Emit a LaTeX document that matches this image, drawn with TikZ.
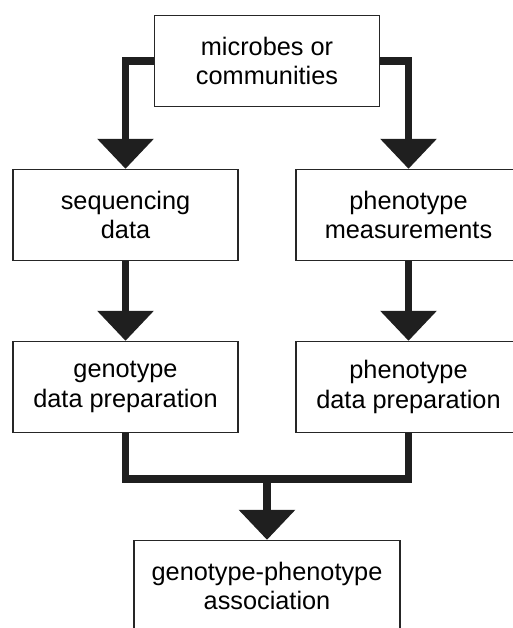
\documentclass[tikz,border=0pt]{standalone}
\usepackage{fontspec}
\setmainfont{Liberation Sans}
\usetikzlibrary{arrows.meta}
\begin{document}
\begin{tikzpicture}[
            box/.style={rectangle, draw=black!85, thick, minimum width=4.5cm, minimum height=1.82cm,
                        align=center, font=\fontsize{14.4}{17}\selectfont},
            flow/.style={draw=black!88, line width=4pt},
            arr/.style={flow, -{Triangle[width=1.1cm, length=0.6cm]}}
            ]
            \useasboundingbox (0,0) rectangle (10.24,-12.56);
            \node[box] (src)   at (5.34,-1.22)  {microbes or\\communities};
            \node[box] (seq)   at (2.51,-4.30)  {sequencing\\data};
            \node[box] (meas)  at (8.17,-4.30)  {phenotype\\measurements};
            \node[box] (gprep) at (2.51,-7.74)  {genotype\\data preparation};
            \node[box] (pprep) at (8.17,-7.74)  {phenotype\\data preparation};
            \node[box, minimum width=5.32cm] (assoc) at (5.34,-11.72) {genotype-phenotype\\association};
            % split
            \draw[arr] (src.west) -| (seq.north);
            \draw[arr] (src.east) -| (meas.north);
            \draw[arr] (seq) -- (gprep);
            \draw[arr] (meas) -- (pprep);
            % merge
            \coordinate (join) at (5.34,-9.58);
            \draw[flow] (gprep.south) |- (join) -| (pprep.south);
            \draw[arr] (join) -- (assoc.north);
        \end{tikzpicture}
\end{document}
